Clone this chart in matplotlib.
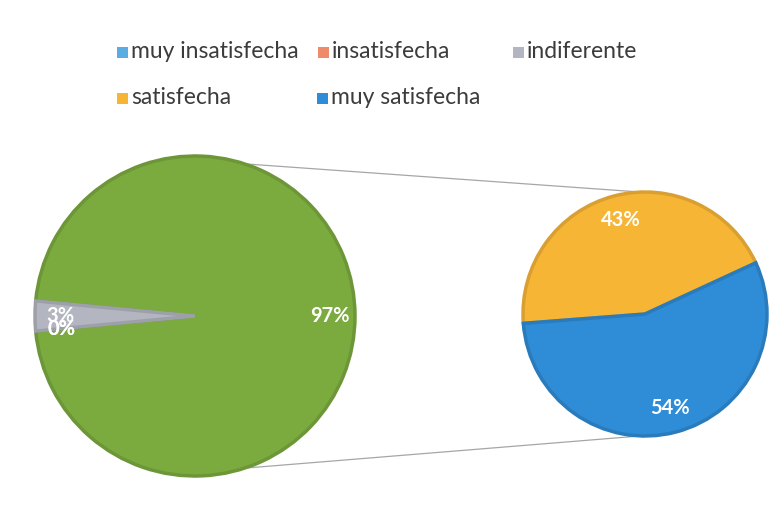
import numpy as np
import matplotlib
matplotlib.use("Agg")
import matplotlib.pyplot as plt
from matplotlib.patches import Rectangle
from matplotlib.colors import to_rgb

plt.rcParams["font.family"] = ["Lato", "DejaVu Sans"]

# categories and shares (% of all responses)
categories = ["muy insatisfecha", "insatisfecha", "indiferente", "satisfecha", "muy satisfecha"]
shares = [0, 0, 3, 43, 54]
colors = ["#5aace2", "#ee8b6b", "#b3b6c0", "#f7b536", "#2f8cd6"]
other_color = "#7bab3f"

# main pie: "other" (satisfecha + muy satisfecha) plus the small categories
other_total = shares[3] + shares[4]
main_vals = [other_total, shares[2], shares[1], shares[0]]
main_cols = [other_color, colors[2], colors[1], colors[0]]
# secondary pie: breakdown of "other"
sub_vals = [shares[3], shares[4]]
sub_cols = [colors[3], colors[4]]

W, H = 784, 505
fig = plt.figure(figsize=(W / 100, H / 100), dpi=100)
ax = fig.add_axes([0, 0, 1, 1])


def darker(c, f=0.88):
    return tuple(v * f for v in to_rgb(c))


def style_wedges(wedges, vals):
    for w, v in zip(wedges, vals):
        w.set_edgecolor(darker(w.get_facecolor()))
        w.set_linewidth(2.5 if v > 0 else 0)


label_kw = dict(color="white", fontsize=14.5, fontweight="bold")

c1, r1 = (195, H - 316), 160
c2, r2 = (645, H - 314), 122

start1 = -360 * other_total / 100 / 2
wedges1, _, txt1 = ax.pie(
    main_vals, colors=main_cols, startangle=start1, counterclock=True,
    center=c1, radius=r1, autopct=lambda p: f"{p:.0f}%", pctdistance=0.84,
    textprops=label_kw, frame=True,
)
style_wedges(wedges1, main_vals)

sub_sum = sum(sub_vals)
wedges2, _, txt2 = ax.pie(
    sub_vals, colors=sub_cols, startangle=24.8, counterclock=True,
    center=c2, radius=r2, autopct=lambda p: f"{p * sub_sum / 100:.0f}%",
    pctdistance=0.8, textprops=label_kw, frame=True,
)
style_wedges(wedges2, sub_vals)

ax.set_xlim(0, W)
ax.set_ylim(0, H)
ax.set_aspect("equal")
ax.axis("off")

# connector lines between the two pies
for a1, a2 in [(72, 92), (-72, -92)]:
    p1 = (c1[0] + r1 * np.cos(np.radians(a1)), c1[1] + r1 * np.sin(np.radians(a1)))
    p2 = (c2[0] + r2 * np.cos(np.radians(a2)), c2[1] + r2 * np.sin(np.radians(a2)))
    ax.plot([p1[0], p2[0]], [p1[1], p2[1]], color="#a6a6a6", lw=0.9, zorder=0)

# legend: two rows, fixed slots
slots = [(117, 52), (318, 52), (513, 52), (117, 98), (317, 98)]
for (x, y), name, col in zip(slots, categories, colors):
    ax.add_patch(Rectangle((x, H - y - 5.5), 11, 11, color=col, lw=0))
    ax.text(x + 14, H - y + 1, name, fontsize=16.5, color="#3c3c3c",
            va="center", ha="left")

fig.savefig("out.png", dpi=100)
